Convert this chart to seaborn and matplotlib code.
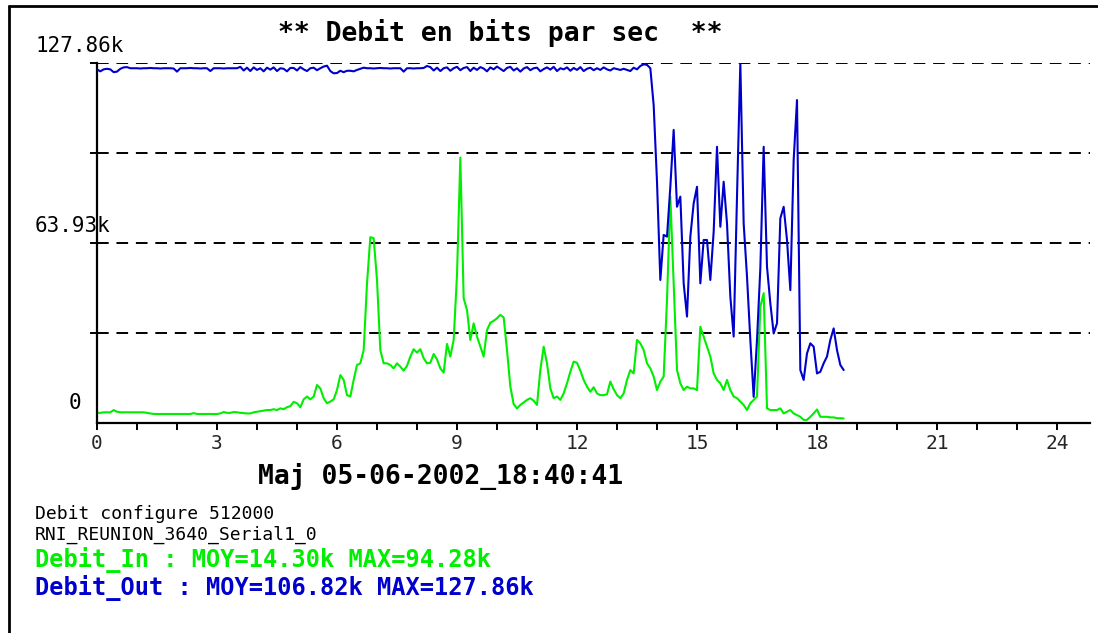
import numpy as np
import pandas as pd
import seaborn as sns
import matplotlib.pyplot as plt
from matplotlib.lines import Line2D

# Debit en kbits/s, un point toutes les 5 minutes depuis 0h
debit_out = [
    125.6, 124.9, 125.6, 125.8, 125.6, 124.6, 124.8, 125.8, 126.3, 126.4, 126.0,
    126.0, 126.0, 125.9, 126.0, 126.0, 126.1, 126.0, 126.0, 125.9, 126.0, 126.0, 126.0, 125.9,
    124.8,
    126.0, 126.0, 126.0, 126.1, 126.0, 126.0, 125.9, 126.0, 126.0,
    125.0,
    126.0, 126.0, 126.0, 125.9, 126.0, 126.0, 126.0, 126.0,
    126.5, 125.2, 126.2, 125.0, 126.3, 125.4, 126.0, 124.9, 126.2, 125.5, 126.3, 125.0, 126.0,
    125.8, 124.9, 126.1, 126.1, 125.2, 126.4, 125.6, 125.0, 126.0, 126.2, 125.3, 126.0, 126.6,
    126.9, 125.0, 124.2, 124.3, 125.1, 124.6, 125.1, 125.1, 124.9, 125.4, 125.8, 126.2,
    126.0, 126.0, 125.9, 126.0, 126.1, 126.0, 126.0, 125.9, 126.0, 126.0, 126.0,
    124.8,
    126.0, 126.0, 125.9, 126.0, 126.0,
    126.1, 126.8, 126.4, 125.2, 126.2, 125.0, 126.0, 126.3, 125.1, 126.0, 126.5, 125.3, 126.1,
    126.4, 125.0, 126.2, 125.4, 126.4, 125.9, 124.9, 126.3, 125.6, 126.6, 125.8, 125.0, 126.1,
    126.5, 125.2, 126.0, 124.8, 125.9, 126.4, 125.3, 126.0, 126.2, 124.9, 125.7, 126.3, 125.5,
    126.5, 125.0, 126.0, 125.6, 126.3, 125.1, 126.1, 125.4, 126.4, 125.0, 125.8, 126.2, 125.3,
    126.0, 125.4, 126.3, 125.6, 125.2, 126.0, 125.7, 125.4,
    125.8, 125.4, 125.0, 126.2, 125.6, 126.8, 127.4, 127.2, 126.0, 112.9, 85.7, 50.8, 66.8,
    66.2, 83.9, 104.1, 76.8, 80.4, 49.6, 37.8, 66.2, 78.0, 83.9, 49.6, 65.0, 65.0, 50.8, 67.9,
    98.1, 69.7, 85.7, 70.9, 44.9, 30.7, 80.4, 127.86, 70.9, 52.0, 29.5, 9.3, 29.5, 54.9, 98.1,
    55.5, 42.5, 31.8, 35.4, 72.7, 76.8, 65.0, 47.2, 93.4, 114.7, 18.8, 15.3, 24.7, 28.3, 27.1,
    17.6, 18.2, 21.2, 23.6, 29.5, 33.6, 25.9, 20.6, 18.8,
]

debit_in = [
    3.6, 3.6, 3.8, 3.8, 3.8, 4.6, 4.0, 3.8, 3.8, 3.8, 3.8, 3.8, 3.8, 3.8, 3.8, 3.6, 3.4,
    3.2, 3.2, 3.2, 3.2, 3.2, 3.2, 3.2, 3.2, 3.2, 3.2, 3.2, 3.2, 3.5, 3.2, 3.2, 3.2, 3.2,
    3.2, 3.2, 3.2, 3.4, 3.9, 3.6, 3.6,
    3.9, 3.8, 3.6, 3.5, 3.4, 3.4, 3.8, 4.0, 4.2, 4.4, 4.6, 4.6, 4.9, 4.6, 5.2, 4.9, 5.6,
    6.0, 7.5, 7.0, 5.6, 8.4, 9.4, 8.4, 9.4, 13.5, 12.3, 8.8, 7.0, 7.6, 8.4, 11.7, 17.0,
    15.3, 9.9, 9.4, 15.3, 20.6, 21.2, 25.9, 49.5, 66.0, 65.6, 50.8, 25.9, 21.2, 21.2, 20.6,
    19.4, 21.2, 20.0, 18.6, 20.3, 23.6, 26.2, 25.0, 26.2, 23.0, 21.2, 21.4, 24.5, 22.6,
    19.4, 17.9, 28.1, 23.6, 29.5,
    52.6, 94.28, 44.3, 40.1, 29.5, 35.4, 30.7, 27.1, 23.6, 33.0, 35.6, 36.3, 37.2, 38.4, 37.5,
    25.9, 12.9, 6.7, 5.2, 6.4, 7.3, 8.2, 8.8, 7.9, 6.4, 18.8, 27.1, 21.2, 12.3, 8.8, 9.4,
    8.2, 10.5, 14.1, 18.2, 21.8, 21.4, 18.6, 15.3, 12.9, 11.1, 12.7, 10.5, 9.9, 9.9, 10.2,
    14.7, 12.0, 9.9, 8.8, 10.5, 15.3, 18.8, 17.6, 29.5, 28.3, 25.9, 21.2, 19.4, 16.5, 11.7,
    14.7, 16.5,
    43.7, 80.4, 49.6, 18.8, 14.1, 11.7, 12.9, 12.3, 12.3, 11.7, 34.2, 30.7, 27.1, 23.6, 17.6,
    15.3, 14.1, 11.7, 15.3, 11.7, 9.4, 8.8, 7.6, 6.4, 4.6, 7.0, 8.2, 9.4, 41.3, 46.1, 5.2,
    4.6, 4.6, 4.6, 5.2, 3.4, 4.0, 4.6, 3.4, 2.8, 2.2, 1.1, 1.1, 2.2, 3.4, 4.8, 2.2, 2.2,
    2.2, 2.0, 2.0, 1.7, 1.7, 1.6,
]

y_max = 127.86
y_grid = [31.965, 63.93, 95.895, 127.86]
y_labels = {0: "0", 63.93: "63.93k", 127.86: "127.86k"}
x_labels = [0, 3, 6, 9, 12, 15, 18, 21, 24]

vert = "#00ee00"
bleu = "#0000cc"

df_out = pd.DataFrame({"heure": np.arange(len(debit_out)) * 5 / 60, "debit": debit_out})
df_in = pd.DataFrame({"heure": np.arange(len(debit_in)) * 5 / 60, "debit": debit_in})

sns.set_theme(style="white")
plt.rcParams["font.family"] = ["DejaVu Sans Mono", "DejaVu Sans"]

W, H = 1098, 633
fig = plt.figure(figsize=(W / 100, H / 100), dpi=100)
ax = fig.add_axes([97 / W, (H - 423) / H, (1090 - 97) / W, 360 / H])

for yg in y_grid:
    ax.axhline(yg, color="black", lw=1.4, ls=(0, (6, 4)), zorder=1)

sns.lineplot(data=df_out, x="heure", y="debit", color=bleu, lw=1.5, ax=ax, zorder=3)
sns.lineplot(data=df_in, x="heure", y="debit", color=vert, lw=1.5, ax=ax, zorder=2)

ax.set_xlim(0, (1090 - 97) / 40)
ax.set_ylim(0, y_max)
ax.set_xlabel("")
ax.set_ylabel("")
for s in ["top", "right"]:
    ax.spines[s].set_visible(False)
for s in ["left", "bottom"]:
    ax.spines[s].set_color("black")
    ax.spines[s].set_linewidth(1.6)

ax.set_xticks(x_labels)
ax.set_xticklabels([str(v) for v in x_labels], fontsize=14)
ax.set_xticks(range(0, 25), minor=True)
ax.tick_params(axis="x", which="both", direction="out", length=5, width=1.4,
               color="black", bottom=True, pad=3)
ax.set_yticks(y_grid)
ax.set_yticklabels([])
ax.tick_params(axis="y", direction="out", length=5, width=1.4, color="black", left=True)

# etiquettes de l'axe y posees au-dessus des lignes
for val, lab in y_labels.items():
    if val == 0:
        ax.text((75 - 97) / (1090 - 97), 3.5, lab, transform=ax.get_yaxis_transform(),
                ha="center", va="bottom", fontsize=15, color="black", clip_on=False)
    else:
        ax.text((35 - 97) / (1090 - 97), val + 2.5, lab, transform=ax.get_yaxis_transform(),
                ha="left", va="bottom", fontsize=15, color="black", clip_on=False)


def px(x, y):
    return x / W, 1 - y / H


fig.text(*px(500, 33), "** Debit en bits par sec  **", ha="center", va="center",
         fontsize=19, fontweight="bold", color="black")
fig.text(*px(441, 476), "Maj 05-06-2002_18:40:41", ha="center", va="center",
         fontsize=19, fontweight="bold", color="black")
fig.text(*px(35, 514), "Debit configure 512000", ha="left", va="center",
         fontsize=13, color="black")
fig.text(*px(35, 535), "RNI_REUNION_3640_Serial1_0", ha="left", va="center",
         fontsize=13, color="black")
fig.text(*px(35, 560), "Debit_In : MOY=14.30k MAX=94.28k", ha="left", va="center",
         fontsize=17, fontweight="bold", color=vert)
fig.text(*px(35, 588), "Debit_Out : MOY=106.82k MAX=127.86k", ha="left", va="center",
         fontsize=17, fontweight="bold", color=bleu)

# cadre de l'image
fig.add_artist(Line2D([9 / W, 9 / W], [0, 1 - 6 / H], color="black", lw=2,
                      transform=fig.transFigure))
fig.add_artist(Line2D([9 / W, 1], [1 - 6 / H, 1 - 6 / H], color="black", lw=2,
                      transform=fig.transFigure))

fig.savefig("out.png", dpi=100)
